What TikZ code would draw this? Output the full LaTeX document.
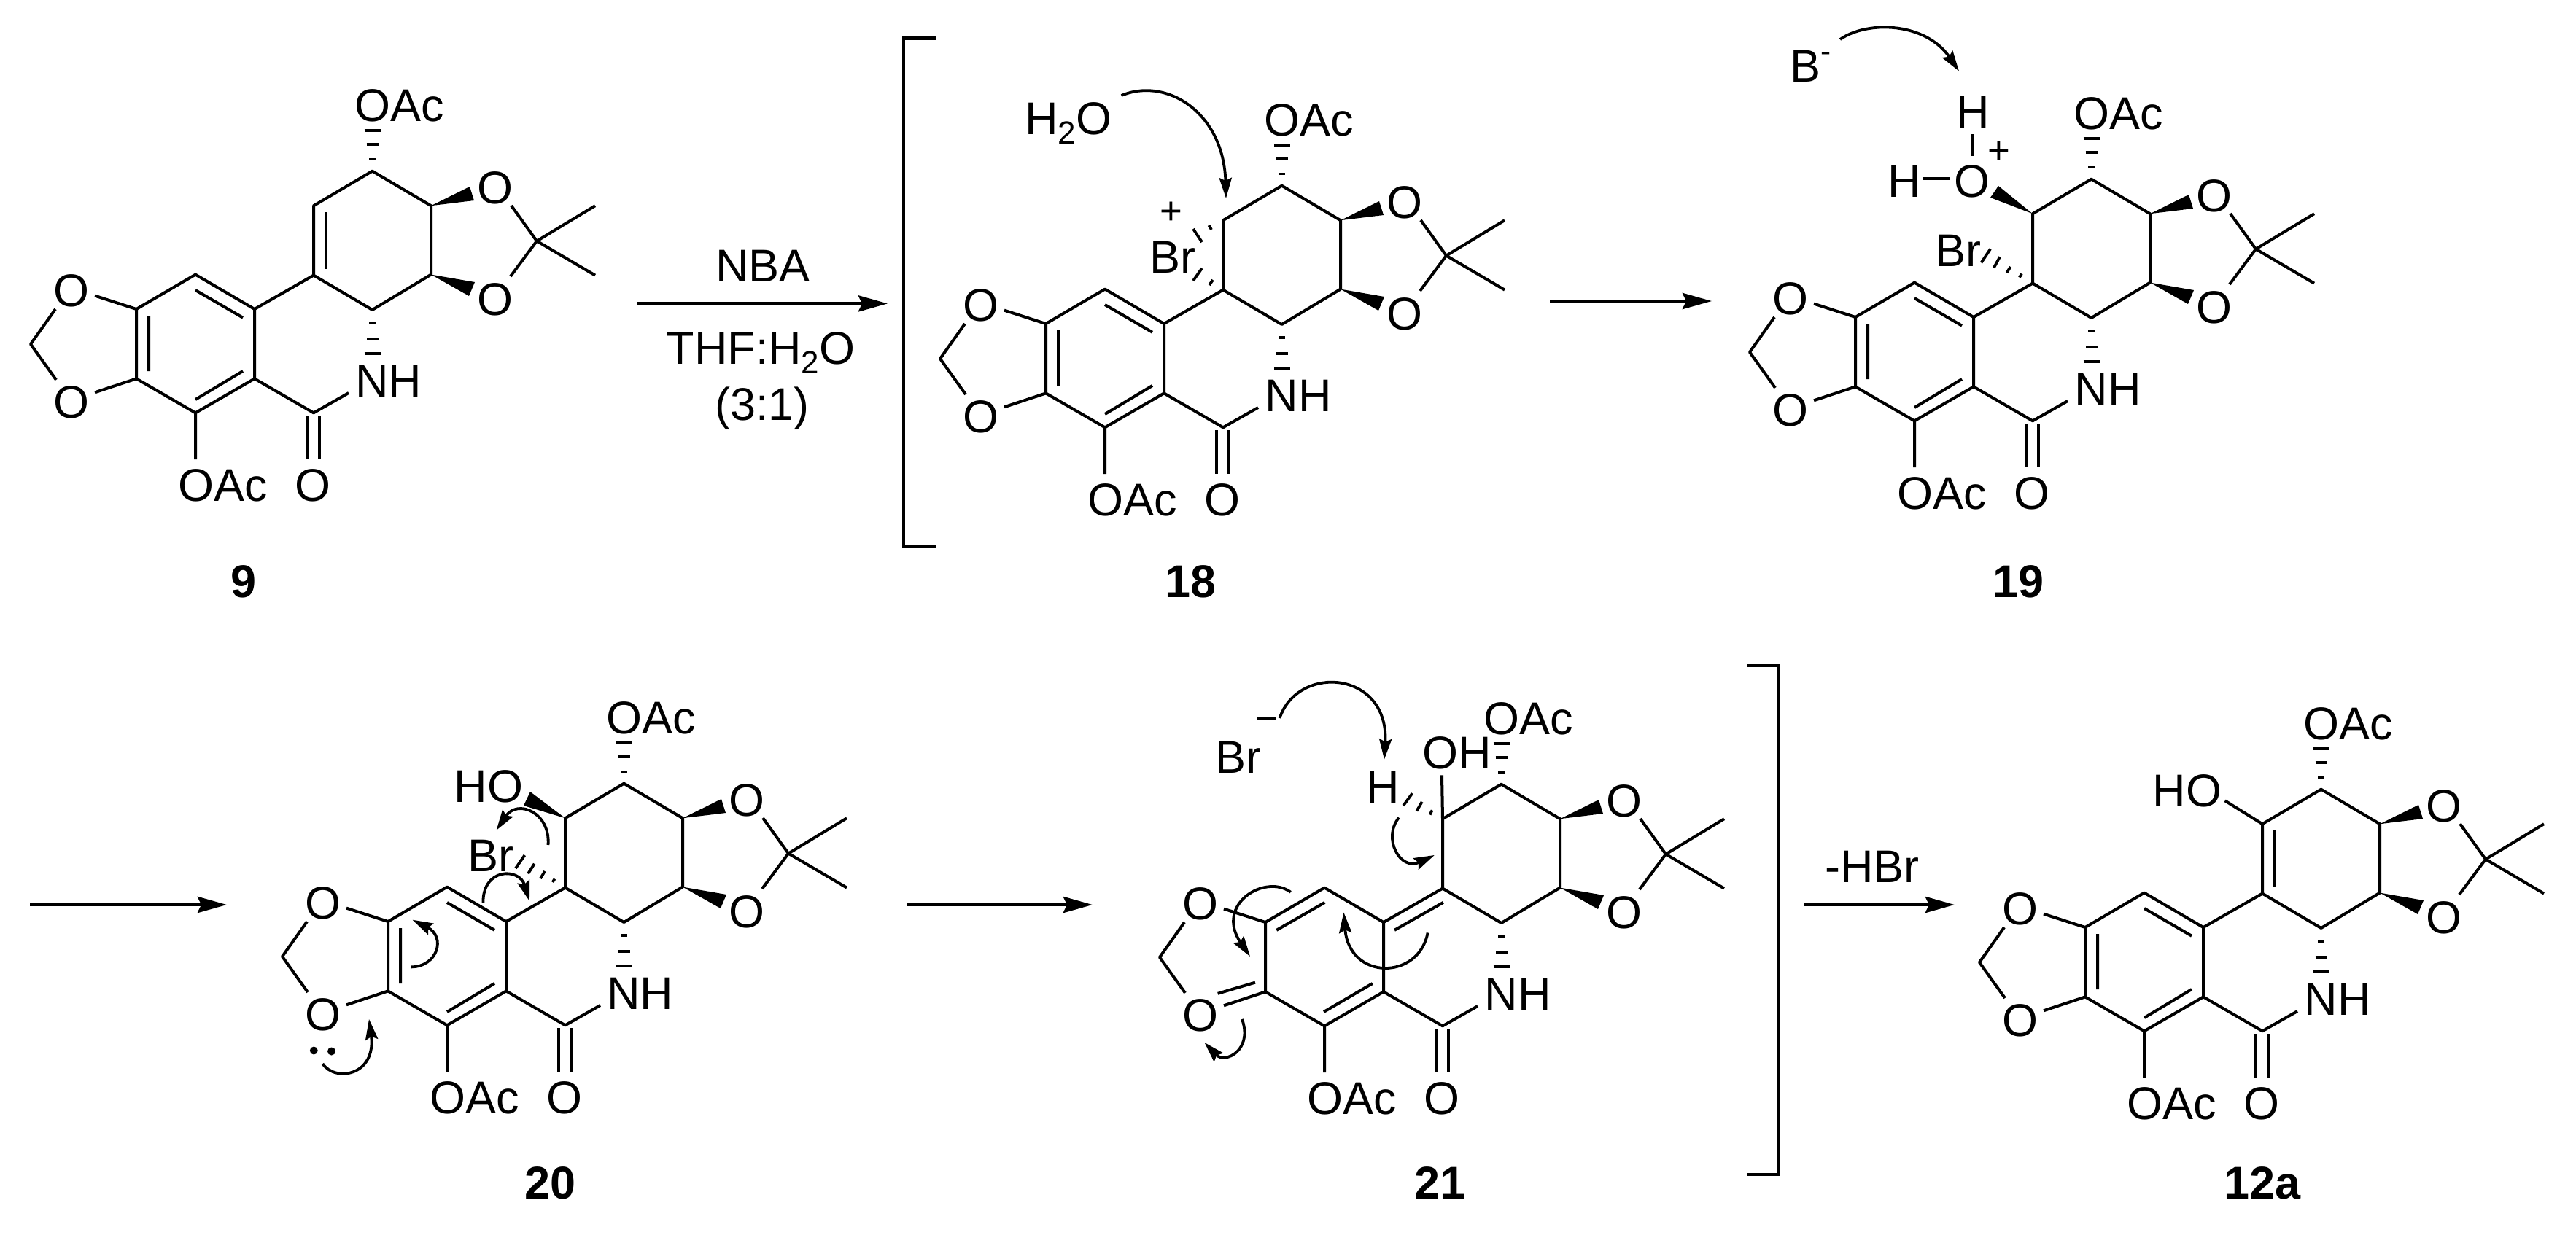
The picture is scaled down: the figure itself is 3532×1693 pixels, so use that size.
\documentclass[tikz,border=0pt]{standalone}
\usepackage{fontspec}
\setmainfont{Liberation Sans}
\usetikzlibrary{arrows.meta}
\newcommand{\subtwo}{\raisebox{-0.13cm}{\fontsize{12.5}{12.5}\selectfont 2}}
\newcommand{\core}[3]{%
 \begin{scope}[shift={(#2,#3)}]
  \foreach \n/\x/\y in {a1/-162/0,a2/-81/-47.4,a3/0/0,a4/0/95.4,a5/-81/142.3,a6/-162/95.4,
    c1/81/-46.4,c2/81/-141.8,c3/161.5/-189.3,c4/242/-141.8,c5/242/-47.4,c6/161.5/1,
    k/81/142.3,q/387/-93.4,m1/467/-141.8,m2/467/-46.4,ch/-307/48,
    ea/-219/-18.4,eb/-219/114.3,ec/-273/0,ed/-272/97,ee/-81/206,
    ef/72/146,eg/72/206,eh/89/146,ei/89/206,ej/129/115,ek/352/-142,el/351/-45,
    wa/295/-168,wb/301/-149,wc/302/-37,wd/294/-18,
    ha/157/-205.6,hb/166/-205.6,hc/153.5/-226,hd/169.5/-226,he/150.5/-245,hf/172.5/-245,
    hg/157/19,hh/166/19,hi/153.5/41,hj/169.5/41,hk/150.5/61,hl/172.5/61}
   \coordinate (#1\n) at (\x,\y);
  \node[lab] (#1OAcT) at (199,-280) {OAc};
  \node[lab] (#1OAcB) at (-43,241) {OAc};
  \node[lab] (#1OC) at (80,241) {O};
  \node[lab] (#1NH) at (184,98) {NH};
  \node[lab] (#1Od) at (330,-167) {O};
  \node[lab] (#1Oe) at (330,-14.3) {O};
  \node[lab] (#1Oa) at (-251,-26) {O};
  \node[lab] (#1Ob) at (-251,127) {O};
 \end{scope}
 \draw[bond] (#1a1)--(#1a2)--(#1a3)--(#1a4)--(#1a5)--(#1a6)--cycle;
 \draw[bond] (#1a3)--(#1c1);
 \draw[bond] (#1c1)--(#1c2)--(#1c3)--(#1c4)--(#1c5)--(#1c6)--cycle;
 \draw[bond] (#1a1)--(#1ea) (#1a6)--(#1eb) (#1ec)--(#1ch)--(#1ed);
 \draw[bond] (#1a5)--(#1ee) (#1a4)--(#1k)--(#1ej);
 \draw[bond] (#1ef)--(#1eg) (#1eh)--(#1ei);
 \draw[bond] (#1ek)--(#1q)--(#1el) (#1m1)--(#1q)--(#1m2);
 \fill (#1c4)--(#1wa)--(#1wb)--cycle;
 \fill (#1c5)--(#1wc)--(#1wd)--cycle;
 \foreach \p/\r in {ha/hb,hc/hd,he/hf,hg/hh,hi/hj,hk/hl}
   \draw[hashb] (#1\p)--(#1\r);
}
% standard benzene inner lines
\newcommand{\arom}[3]{%
 \begin{scope}[shift={(#2,#3)}]
  \foreach \n/\x/\y in {ia/-81/-26,ib/-16/11.7,ic/-145/9,id/-145/85,ie/-81/124,if/-16/85}
   \coordinate (#1\n) at (\x,\y);
 \end{scope}
 \draw[bond] (#1ia)--(#1ib) (#1ic)--(#1id) (#1ie)--(#1if);
}
\newcommand{\alkene}[3]{%
 \begin{scope}[shift={(#2,#3)}]
  \coordinate (#1ja) at (98,-133);
  \coordinate (#1jb) at (98,-55);
 \end{scope}
 \draw[bond] (#1ja)--(#1jb);
}
\begin{document}
\begin{tikzpicture}[x=0.01cm,y=-0.01cm,
  lab/.style={font=\fontsize{17.9}{20}\selectfont,inner sep=0pt,text height=0.451cm,text depth=0pt},
  num/.style={font=\fontsize{17.9}{20}\selectfont\bfseries,inner sep=0pt,text height=0.451cm,text depth=0pt},
  charge/.style={font=\fontsize{15}{15}\selectfont,inner sep=0pt},
  bond/.style={line width=0.04cm,line join=round},
  hashb/.style={line width=0.038cm},
  brk/.style={line width=0.045cm,line join=miter},
  rxn/.style={line width=0.045cm,-{Stealth[length=0.40cm,width=0.22cm,inset=0.05cm]}},
  curly/.style={line width=0.038cm,-{Stealth[length=0.28cm,width=0.17cm,inset=0.04cm]}}]
\useasboundingbox (0,0) rectangle (3532,1693);
\fill[white] (0,0) rectangle (3532,1693);

% ---------- 9
\core{A}{349}{424}\arom{A}{349}{424}\alkene{A}{349}{424}
\node[num] (nA) at (334,797) {9};

% ---------- reaction conditions and arrow 1
\coordinate (R1s) at (873,416.4); \coordinate (R1e) at (1217,416.4);
\draw[rxn] (R1s)--(R1e);
\node[lab] (Rnba) at (1046,363.5) {NBA};
\node[lab] (Rthf) at (1043,477) {THF:H\subtwo O};
\node[lab] (Rrat) at (1045,554) {(3:1)};

% ---------- left bracket
\coordinate (La) at (1283,52.4); \coordinate (Lb) at (1239,52.4);
\coordinate (Lc) at (1239,749); \coordinate (Ld) at (1283,749);
\draw[brk] (La)--(Lb)--(Lc)--(Ld);

% ---------- 18
\core{B}{1596}{444}\arom{B}{1596}{444}
\node[num] (nB) at (1632,797) {18};
\node[lab] (Bbr) at (1608,352) {Br};
\node[charge] (Bplus) at (1606,292) {+};
\node[lab] (Bwater) at (1464.6,162) {H\subtwo O};
\coordinate (Bs1) at (1657.5,309); \coordinate (Bs2) at (1661,315);
\coordinate (Bs3) at (1636,314);   \coordinate (Bs4) at (1648,332);
\coordinate (Bs5) at (1648,368);   \coordinate (Bs6) at (1636,385);
\coordinate (Bs7) at (1663,384);   \coordinate (Bs8) at (1658,391);
\draw[hashb] (Bs1)--(Bs2) (Bs3)--(Bs4) (Bs5)--(Bs6) (Bs7)--(Bs8);
\coordinate (Bcs) at (1537.5,131); \coordinate (Bce) at (1681,272);
\draw[curly] (Bcs) .. controls (1600,105) and (1678,155) .. (Bce);

% ---------- arrow 2
\coordinate (R2s) at (2125,413); \coordinate (R2e) at (2347,413);
\draw[rxn] (R2s)--(R2e);

% ---------- 19
\core{C}{2706}{435}\arom{C}{2706}{435}
\node[num] (nC) at (2767,797) {19};
\node[lab] (Cox) at (2704,248) {O};
\node[lab] (Cht) at (2705.6,153) {H};
\node[lab] (Chl) at (2611,248) {H};
\node[charge] (Cplus) at (2741,209) {+};
\node[lab] (Cbr) at (2684.6,342.5) {Br};
\node[lab,anchor=west] (Cbase) at (2454,90) {B\raisebox{0.28cm}{\fontsize{12}{12}\selectfont -}};
\coordinate (Co1) at (2705,184); \coordinate (Co2) at (2705,214);
\coordinate (Co3) at (2637,245); \coordinate (Co4) at (2674,245);
\draw[bond] (Co1)--(Co2) (Co3)--(Co4);
\coordinate (Cw1) at (2740,255); \coordinate (Cw2) at (2729,271);
\fill (Cc2)--(Cw1)--(Cw2)--cycle;
\coordinate (Cs1) at (2716.5,360.4); \coordinate (Cs2) at (2729,341.5);
\coordinate (Cs3) at (2733.7,367.5); \coordinate (Cs4) at (2742,352.3);
\coordinate (Cs5) at (2751.5,374);   \coordinate (Cs6) at (2756.6,365.9);
\coordinate (Cs7) at (2768.8,380.5); \coordinate (Cs8) at (2772,375.6);
\draw[hashb] (Cs1)--(Cs2) (Cs3)--(Cs4) (Cs5)--(Cs6) (Cs7)--(Cs8);
\coordinate (Ccs) at (2523,54); \coordinate (Cce) at (2686,97.6);
\draw[curly] (Ccs) .. controls (2560,28) and (2640,30) .. (Cce);

% ---------- arrow 3
\coordinate (R3s) at (41,1241); \coordinate (R3e) at (311,1241);
\draw[rxn] (R3s)--(R3e);

% ---------- 20
\core{D}{694}{1264}\arom{D}{694}{1264}
\node[num] (nD) at (754.5,1622) {20};
\node[lab] (Dho) at (670,1078) {HO};
\node[lab] (Dbr) at (672.7,1173) {Br};
\coordinate (Dw1) at (727,1086); \coordinate (Dw2) at (718,1105);
\fill (Dc2)--(Dw1)--(Dw2)--cycle;
\coordinate (Ds1) at (707,1191);   \coordinate (Ds2) at (719.4,1173);
\coordinate (Ds3) at (724,1198.4); \coordinate (Ds4) at (732.7,1184.8);
\coordinate (Ds5) at (741,1205);   \coordinate (Ds6) at (747,1195);
\coordinate (Ds7) at (757.6,1210); \coordinate (Ds8) at (760.6,1205.5);
\draw[hashb] (Ds1)--(Ds2) (Ds3)--(Ds4) (Ds5)--(Ds6) (Ds7)--(Ds8);
\fill (430.3,1441) circle (5.5) (454.5,1442) circle (5.5);
\coordinate (Dc1s) at (751.5,1159); \coordinate (Dc1e) at (680.6,1138.7);
\draw[curly] (Dc1s) .. controls (755,1115) and (710,1095) .. (Dc1e);
\coordinate (Dc2s) at (662.4,1238); \coordinate (Dc2e) at (726,1236);
\draw[curly] (Dc2s) .. controls (662,1190) and (712,1190) .. (Dc2e);
\coordinate (Dc3s) at (563.6,1326.4); \coordinate (Dc3e) at (565.5,1261.7);
\draw[curly] (Dc3s) .. controls (600,1326) and (612,1285) .. (Dc3e);
\coordinate (Dc4s) at (442.4,1459); \coordinate (Dc4e) at (506,1398);
\draw[curly] (Dc4s) .. controls (460,1485) and (516,1475) .. (Dc4e);

% ---------- arrow 4
\coordinate (R4s) at (1243,1241); \coordinate (R4e) at (1498,1241);
\draw[rxn] (R4s)--(R4e);

% ---------- 21
\core{E}{1897}{1265}
\node[num] (nE) at (1974.5,1622) {21};
\node[lab] (Ebr) at (1697.6,1038) {Br};
\node[charge] (Emin) at (1737,994) {−};
\node[lab] (Eh) at (1895.8,1078.5) {H};
\node[lab] (Eoh) at (1998,1031.5) {OH};
\coordinate (Eo1) at (1977,1063.4);
\draw[bond] (Ec2)--(Eo1);
% inner lines of the quinoid ring, exocyclic double bond and C=O
\coordinate (Ed1) at (1750.3,1275.8); \coordinate (Ed2) at (1816.4,1237.9);
\coordinate (Ed3) at (1912,1275.8);   \coordinate (Ed4) at (1978.8,1237.9);
\coordinate (Ed5) at (1815,1388);     \coordinate (Ed6) at (1881.8,1349);
\coordinate (Ed7) at (1669.7,1362.8); \coordinate (Ed8) at (1721,1347.6);
\draw[bond] (Ed1)--(Ed2) (Ed3)--(Ed4) (Ed5)--(Ed6) (Ed7)--(Ed8);
\coordinate (Es1) at (1924.2,1104.9); \coordinate (Es2) at (1936.4,1088.2);
\coordinate (Es3) at (1942.4,1112.4); \coordinate (Es4) at (1949.7,1099.8);
\coordinate (Es5) at (1960.6,1117.5); \coordinate (Es6) at (1963.6,1111.4);
\draw[hashb] (Es1)--(Es2) (Es3)--(Es4) (Es5)--(Es6);
\coordinate (Ec1s) at (1754.5,985); \coordinate (Ec1e) at (1898,1041.6);
\draw[curly] (Ec1s) .. controls (1780,910) and (1905,920) .. (Ec1e);
\coordinate (Ec2s) at (1918,1121.5); \coordinate (Ec2e) at (1966.7,1173);
\draw[curly] (Ec2s) .. controls (1895,1150) and (1920,1195) .. (Ec2e);
\coordinate (Ec3s) at (1957.6,1279.4); \coordinate (Ec3e) at (1842.4,1251.5);
\draw[curly] (Ec3s) .. controls (1945,1345) and (1850,1345) .. (Ec3e);
\coordinate (Ec4s) at (1769.7,1223.7); \coordinate (Ec4e) at (1714,1312);
\draw[curly] (Ec4s) .. controls (1735,1198) and (1665,1240) .. (Ec4e);
\coordinate (Ec5s) at (1703,1398); \coordinate (Ec5e) at (1651.5,1430);
\draw[curly] (Ec5s) .. controls (1718,1440) and (1680,1460) .. (Ec5e);

% ---------- right bracket
\coordinate (Ra) at (2396,913); \coordinate (Rb) at (2439,913);
\coordinate (Rc) at (2439,1611); \coordinate (Rd) at (2396,1611);
\draw[brk] (Ra)--(Rb)--(Rc)--(Rd);

% ---------- arrow 5
\coordinate (R5s) at (2474,1241); \coordinate (R5e) at (2680,1241);
\draw[rxn] (R5s)--(R5e);
\node[lab] (Rhbr) at (2567,1188) {-HBr};

% ---------- 12a
\core{F}{3021}{1272}\arom{F}{3021}{1272}\alkene{F}{3021}{1272}
\node[num] (nF) at (3102,1622) {12a};
\node[lab] (Fho) at (2999,1083.6) {HO};
\coordinate (Fh1) at (3050.7,1098.3);
\draw[bond] (Fc2)--(Fh1);
\end{tikzpicture}
\end{document}
